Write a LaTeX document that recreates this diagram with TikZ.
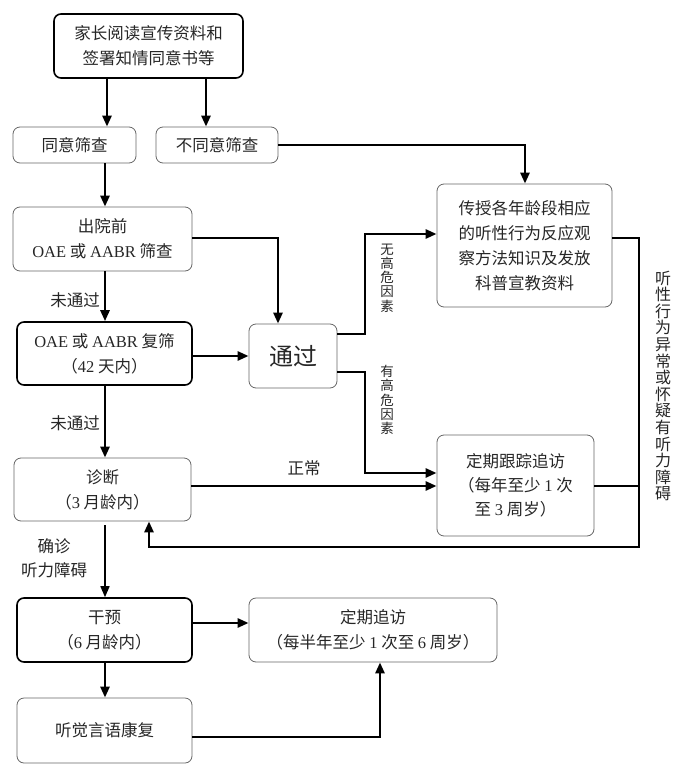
\documentclass[tikz,border=0pt]{standalone}
\usepackage{fontspec}
\setmainfont{Noto Sans CJK SC}
\newfontfamily\lat{Liberation Serif}
\usetikzlibrary{arrows.meta}
\begin{document}
\begin{tikzpicture}[x=1pt,y=-1pt,
 box/.style={draw=black!60, line width=0.8pt, rounded corners=7pt, align=center, inner sep=0pt, text=black!85, font=\fontsize{16.5}{25}\selectfont},
 boxk/.style={box, draw=black, line width=1.6pt},
 conn/.style={line width=2.6pt, draw=black},
 arr/.style={conn, -{Triangle[length=11pt,width=9pt]}},
 lbl/.style={font=\fontsize{16.5}{20}\selectfont, inner sep=0pt, text=black!85},
 vlbl/.style={align=center, inner sep=0pt, text=black!85},
]
\useasboundingbox (0,0) rectangle (686,771);

% nodes
\node[boxk, minimum width=189pt, minimum height=64pt] (top) at (148.5,46) {家长阅读宣传资料和\\签署知情同意书等};
\node[box, minimum width=123pt, minimum height=36pt] (agree) at (74.5,145) {同意筛查};
\node[box, minimum width=122pt, minimum height=36pt] (disagree) at (217,145) {不同意筛查};
\node[box, minimum width=175pt, minimum height=123pt] (teach) at (524.5,245.5) {传授各年龄段相应\\的听性行为反应观\\察方法知识及发放\\科普宣教资料};
\node[box, minimum width=179pt, minimum height=64pt] (pre) at (102.5,239) {出院前\\{\lat OAE} 或 {\lat AABR} 筛查};
\node[boxk, minimum width=175pt, minimum height=63pt] (rescreen) at (104.5,353.5) {{\lat OAE} 或 {\lat AABR} 复筛\\（{\lat 42} 天内）};
\node[box, minimum width=88pt, minimum height=64pt, font=\fontsize{24}{28}\selectfont] (pass) at (293,356) {通过};
\node[box, minimum width=177pt, minimum height=63pt] (diag) at (102.5,489.5) {诊断\\（{\lat 3} 月龄内）};
\node[box, minimum width=157pt, minimum height=101pt, font=\fontsize{16.5}{24}\selectfont] (track) at (515.5,485.5) {定期跟踪追访\\（每年至少 {\lat 1} 次\\至 {\lat 3} 周岁）};
\node[boxk, minimum width=175pt, minimum height=64pt] (interv) at (104.5,630) {干预\\（{\lat 6} 月龄内）};
\node[box, minimum width=248pt, minimum height=64pt] (follow) at (373,630) {定期追访\\（每半年至少 {\lat 1} 次至 {\lat 6} 周岁）};
\node[box, minimum width=175pt, minimum height=65pt] (rehab) at (104.5,730.5) {听觉言语康复};

% labels
\node[lbl] (l1) at (75,300) {未通过};
\node[lbl] (l2) at (75,423) {未通过};
\node[vlbl, font=\fontsize{13.5}{14.2}\selectfont] (l3) at (387,278) {无\\高\\危\\因\\素};
\node[vlbl, font=\fontsize{13.5}{14.2}\selectfont] (l4) at (387,400) {有\\高\\危\\因\\素};
\node[lbl] (l5) at (304,468) {正常};
\node[vlbl, font=\fontsize{16}{16.6}\selectfont] (l6) at (663,386) {听\\性\\行\\为\\异\\常\\或\\怀\\疑\\有\\听\\力\\障\\碍};
\node[lbl] (l7) at (54,546) {确诊};
\node[lbl] (l8) at (54,570) {听力障碍};

% helper coordinates
\coordinate (cA) at (107,0);
\coordinate (cB) at (206,0);
\coordinate (cM) at (105,0);
\coordinate (cD) at (525,0);
\coordinate (cP) at (278,0);
\coordinate (cR) at (365,0);
\coordinate (cE) at (639,0);
\coordinate (cF) at (149,0);
\coordinate (cG) at (380,0);
\coordinate (y356) at (0,356);
\coordinate (y334) at (0,334);
\coordinate (y372) at (0,372);
\coordinate (y234) at (0,234);
\coordinate (y238) at (0,238);
\coordinate (y473) at (0,473);
\coordinate (y486) at (0,486);
\coordinate (y547) at (0,547);
\coordinate (y623) at (0,623);
\coordinate (y737) at (0,737);

% connectors
\draw[arr] (top.south -| cA) -- (agree.north -| cA);
\draw[arr] (top.south -| cB) -- (disagree.north -| cB);
\draw[arr] (disagree.east) -- (cD |- disagree.east) -- (teach.north -| cD);
\draw[arr] (agree.south -| cM) -- (pre.north -| cM);
\draw[arr] (pre.east |- y238) -- (cP |- y238) -- (pass.north -| cP);
\draw[arr] (pre.south -| cM) -- (rescreen.north -| cM);
\draw[arr] (rescreen.east |- y356) -- (pass.west |- y356);
\draw[arr] (pass.east |- y334) -- (cR |- y334) -- (cR |- y234) -- (teach.west |- y234);
\draw[arr] (pass.east |- y372) -- (cR |- y372) -- (cR |- y473) -- (track.west |- y473);
\draw[arr] (rescreen.south -| cM) -- (diag.north -| cM);
\draw[arr] (diag.east |- y486) -- (track.west |- y486);
\draw[arr] (teach.east |- y238) -- (cE |- y238) -- (cE |- y547) -- (cF |- y547) -- (diag.south -| cF);
\draw[conn] (track.east |- y486) -- (cE |- y486);
\draw[arr, line width=1.6pt, shorten <=4pt] (diag.south -| cM) -- (interv.north -| cM);
\draw[arr] (interv.east |- y623) -- (follow.west |- y623);
\draw[arr] (interv.south -| cM) -- (rehab.north -| cM);
\draw[arr] (rehab.east |- y737) -- (cG |- y737) -- (follow.south -| cG);
\end{tikzpicture}
\end{document}
